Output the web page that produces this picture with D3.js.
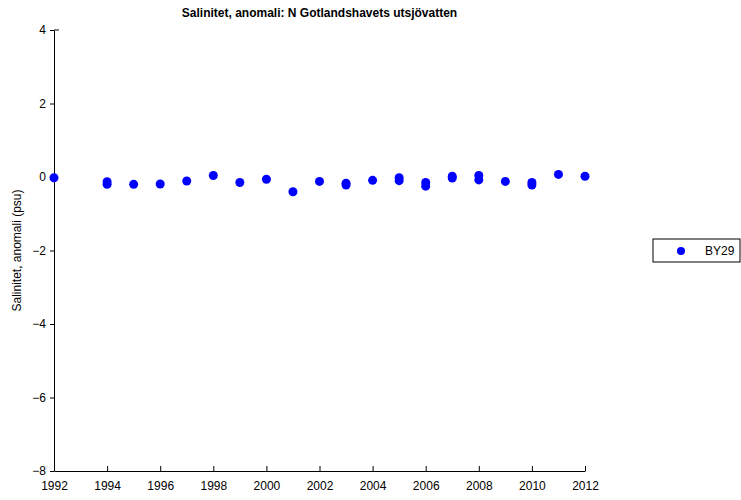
<!DOCTYPE html>
<html>
<head>
<meta charset="utf-8">
<script src="https://cdn.jsdelivr.net/npm/d3@7"></script>
<style>
  body { margin: 0; background: #fff; }
  svg text { font-family: "Liberation Sans", Arial, Helvetica, sans-serif; }
</style>
</head>
<body>
<div id="chart"></div>
<script>
// data
const years = [1992, 1994, 1994, 1995, 1996, 1997, 1998, 1999, 2000, 2001,
               2002, 2003, 2003, 2004, 2005, 2005, 2006, 2006, 2007, 2007,
               2008, 2008, 2009, 2010, 2010, 2011, 2012]
const anomaly = [-0.02, -0.13, -0.2, -0.2, -0.19, -0.11, 0.04, -0.15, -0.06, -0.4,
                 -0.12, -0.17, -0.22, -0.09, -0.02, -0.1, -0.15, -0.25, 0.02, -0.03,
                 0.04, -0.08, -0.12, -0.15, -0.22, 0.07, 0.02]
const xTicks = [1992, 1994, 1996, 1998, 2000, 2002, 2004, 2006, 2008, 2010, 2012]
const yTicks = [-8, -6, -4, -2, 0, 2, 4]
const seriesName = 'BY29'

const chart = { width: 741, height: 500 }
const margin = { left: 54, right: 156, top: 30, bottom: 29 }

const points = years.map((y, i) => ({ year: y, value: anomaly[i] }))

const xScale = d3.scaleLinear()
  .domain([1992, 2012])
  .range([margin.left, chart.width - margin.right])

const yScale = d3.scaleLinear()
  .domain([-8, 4])
  .range([chart.height - margin.bottom, margin.top])

const svg = d3.select('#chart')
  .append('svg')
  .attr('width', chart.width)
  .attr('height', chart.height)

// x axis, ticks pointing up
const xAxis = d3.axisBottom(xScale)
  .tickValues(xTicks)
  .tickFormat(d3.format('d'))
  .tickSizeInner(-5)
  .tickSizeOuter(0)
  .tickPadding(10)

svg.append('g')
  .attr('transform', `translate(0, ${yScale(-8)})`)
  .call(xAxis)
  .call(g => g.select('.domain').attr('stroke', '#000'))
  .call(g => g.selectAll('text').attr('font-size', '12px').attr('fill', '#000'))

// y axis
const yAxis = d3.axisLeft(yScale)
  .tickValues(yTicks)
  .tickFormat(d => d < 0 ? '\u2212' + Math.abs(d) : d)
  .tickSizeInner(4)
  .tickSizeOuter(0)
  .tickPadding(4)

svg.append('g')
  .attr('transform', `translate(${xScale(1992)}, 0)`)
  .call(yAxis)
  .call(g => g.select('.domain').attr('stroke', '#000'))
  .call(g => g.selectAll('text').attr('font-size', '12px').attr('fill', '#000'))

// small tick at the top pointing right
svg.append('line')
  .attr('x1', xScale(1992)).attr('x2', xScale(1992) + 5)
  .attr('y1', yScale(4)).attr('y2', yScale(4))
  .attr('stroke', '#000')

// points
svg.append('g')
  .selectAll('circle')
  .data(points)
  .join('circle')
  .attr('cx', d => xScale(d.year))
  .attr('cy', d => yScale(d.value))
  .attr('r', 4.5)
  .attr('fill', '#0000ff')

// title
svg.append('text')
  .attr('x', (xScale(1992) + xScale(2012)) / 2)
  .attr('y', 17)
  .attr('text-anchor', 'middle')
  .attr('font-size', '12px')
  .attr('font-weight', 'bold')
  .text('Salinitet, anomali: N Gotlandshavets utsjövatten')

// y label
svg.append('text')
  .attr('transform', `translate(21, ${(yScale(4) + yScale(-8)) / 2}) rotate(-90)`)
  .attr('text-anchor', 'middle')
  .attr('font-size', '12px')
  .text('Salinitet, anomali (psu)')

// legend
const legend = svg.append('g').attr('transform', 'translate(653, 239)')
legend.append('rect')
  .attr('width', 87).attr('height', 23)
  .attr('fill', '#fff').attr('stroke', '#000')
legend.append('circle')
  .attr('cx', 28).attr('cy', 12).attr('r', 4)
  .attr('fill', '#0000ff')
legend.append('text')
  .attr('x', 52).attr('y', 16)
  .attr('font-size', '12px')
  .text(seriesName)
</script>
</body>
</html>
